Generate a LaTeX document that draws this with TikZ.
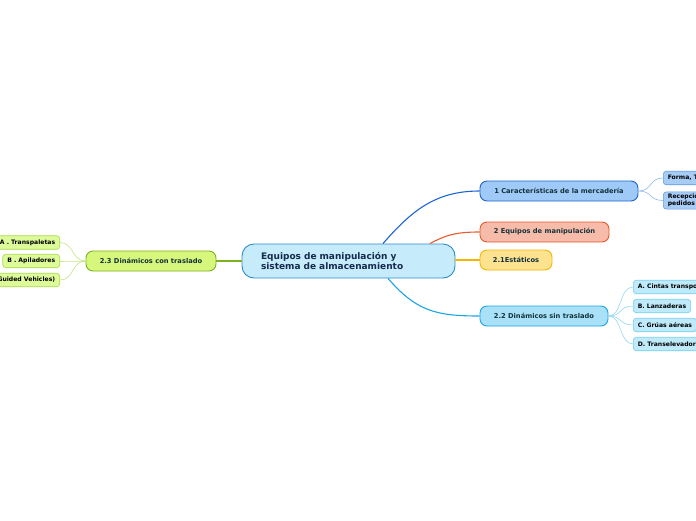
\documentclass[tikz,border=0pt]{standalone}
\usepackage{fontspec}
\setsansfont{DejaVu Sans}
\renewcommand\familydefault{\sfdefault}
\definecolor{centxt}{HTML}{152A4D}
\definecolor{cenfill}{HTML}{C6EBFB}
\definecolor{cenline}{HTML}{2E8CC8}
\definecolor{cartxt}{HTML}{14323A}
\definecolor{carfill}{HTML}{9FCAF7}
\definecolor{carline}{HTML}{1E64D0}
\definecolor{equfill}{HTML}{F7BBA9}
\definecolor{equline}{HTML}{EA5A2A}
\definecolor{estfill}{HTML}{FDE290}
\definecolor{estline}{HTML}{F7B500}
\definecolor{sinfill}{HTML}{A9E2F8}
\definecolor{sinline}{HTML}{1BA5E3}
\definecolor{confill}{HTML}{D6F67C}
\definecolor{conline}{HTML}{7DB21E}
\definecolor{gleaf}{HTML}{DEFB9A}
\definecolor{gleafline}{HTML}{A9D84C}
\definecolor{bleaf}{HTML}{A7CDF7}
\definecolor{bleafline}{HTML}{5F9AE0}
\definecolor{cleaf}{HTML}{BFEAFA}
\definecolor{cleafline}{HTML}{78CDEF}
\begin{document}
\begin{tikzpicture}[
  x=1pt, y=-1pt,
  topic/.style={draw, line width=0.9pt, rounded corners=7pt, minimum height=20pt,
    font=\fontsize{6.7}{7.5}\selectfont\bfseries, text=cartxt, inner xsep=0pt},
  leaf/.style={draw, line width=0.6pt, rounded corners=3pt, minimum height=13.5pt,
    font=\fontsize{6.1}{7}\selectfont\bfseries, text=black, inner xsep=4.5pt, inner ysep=2pt, align=left},
  link/.style={line width=1.1pt},
  twig/.style={line width=0.6pt}
]
\useasboundingbox (0,0) rectangle (696,520);
\clip (0,0) rectangle (696,520);

% central topic
\node[draw=cenline, fill=cenfill, line width=0.9pt, rounded corners=12pt,
  minimum height=34pt, text width=175pt, inner xsep=19pt, align=left,
  font=\fontsize{9}{10.5}\selectfont\bfseries, text=centxt]
  (cen) at (348.5,261) {Equipos de manipulación y\\sistema de almacenamiento};

% main topics
\node[topic, draw=carline, fill=carfill, minimum width=158pt] (car) at (559,191) {1 Características de la mercadería};
\node[topic, draw=equline, fill=equfill, minimum width=129pt] (equ) at (544.5,232) {2 Equipos de manipulación};
\node[topic, draw=estline, fill=estfill, minimum width=72pt] (est) at (516,260) {2.1Estáticos};
\node[topic, draw=sinline, fill=sinfill, minimum width=128pt] (sin) at (544,316) {2.2 Dinámicos sin traslado};
\node[topic, draw=conline, fill=confill, minimum width=130pt] (con) at (151,261) {2.3 Dinámicos con traslado};

% leaves
\node[leaf, draw=gleafline, fill=gleaf, anchor=east] (tra) at (60,242.5) {A . Transpaletas};
\node[leaf, draw=gleafline, fill=gleaf, anchor=east] (api) at (60,261) {B . Apiladores};
\node[leaf, draw=gleafline, fill=gleaf, anchor=east] (agv) at (60,280) {(Guided Vehicles)};

\node[leaf, draw=bleafline, fill=bleaf, anchor=west] (for) at (663,178) {Forma, Tamaño};
\node[leaf, draw=bleafline, fill=bleaf, anchor=west] (rec) at (663,200.5) {Recepción\\pedidos};

\node[leaf, draw=cleafline, fill=cleaf, anchor=west] (cin) at (633,287) {A. Cintas transportadoras};
\node[leaf, draw=cleafline, fill=cleaf, anchor=west] (lan) at (633,306) {B. Lanzaderas};
\node[leaf, draw=cleafline, fill=cleaf, anchor=west] (gru) at (633,325) {C. Grúas aéreas};
\node[leaf, draw=cleafline, fill=cleaf, anchor=west] (trs) at (633,344) {D. Transelevadores};

% connectors
\draw[link, draw=carline] ([xshift=34.5pt]cen.north) .. controls +(28,-32) and +(-45,0) .. (car.west);
\draw[link, draw=equline] ([xshift=81.5pt]cen.north) .. controls +(15,-8) and +(-25,0) .. (equ.west);
\draw[link, draw=estline] (cen.east |- est.west) -- (est.west);
\draw[link, draw=sinline] ([xshift=39.5pt]cen.south) .. controls +(28,32) and +(-45,0) .. (sin.west);
\draw[link, draw=conline] (cen.west) -- (con.east);

\foreach \lf in {tra,api,agv}
  \draw[twig, draw=gleafline!70] (con.west) .. controls +(-14,0) and +(14,0) .. (\lf.east);
\foreach \lf in {for,rec}
  \draw[twig, draw=bleafline!70] (car.east) .. controls +(14,0) and +(-14,0) .. (\lf.west);
\foreach \lf in {cin,lan,gru,trs}
  \draw[twig, draw=cleafline!80] (sin.east) .. controls +(14,0) and +(-14,0) .. (\lf.west);
\end{tikzpicture}
\end{document}
